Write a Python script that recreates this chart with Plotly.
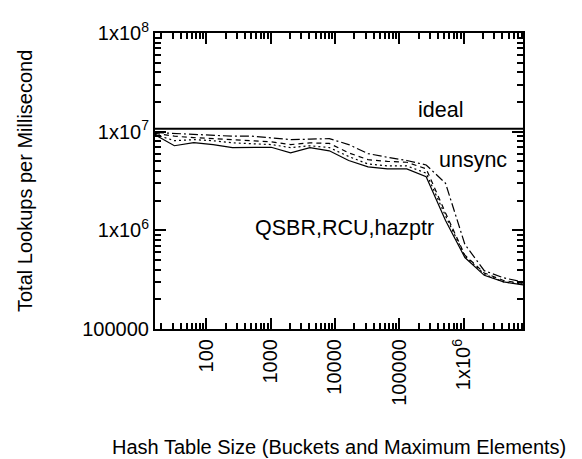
import plotly.graph_objects as go

sizes = [2 ** k for k in range(4, 24)]

qsbr = [9.3e6, 7.2e6, 7.75e6, 7.4e6, 6.9e6, 6.9e6, 6.95e6, 6.1e6, 6.9e6, 6.4e6,
        5.1e6, 4.4e6, 4.2e6, 4.2e6, 3.5e6, 1.26e6, 5.3e5, 3.5e5, 3.0e5, 2.8e5]
rcu = [9.4e6, 8.1e6, 8.3e6, 8.1e6, 7.7e6, 7.6e6, 7.4e6, 6.9e6, 7.2e6, 6.9e6,
       5.6e6, 4.7e6, 4.5e6, 4.5e6, 3.8e6, 1.4e6, 5.5e5, 3.6e5, 3.0e5, 2.85e5]
hazptr = [9.6e6, 9.0e6, 8.7e6, 8.5e6, 8.3e6, 8.1e6, 7.9e6, 7.4e6, 7.7e6, 7.6e6,
          6.1e6, 5.2e6, 5.0e6, 4.9e6, 4.2e6, 1.5e6, 5.6e5, 3.7e5, 3.1e5, 2.9e5]
unsync = [9.8e6, 9.6e6, 9.4e6, 9.2e6, 9.0e6, 9.0e6, 8.7e6, 8.3e6, 8.4e6, 8.5e6,
          7.4e6, 6.0e6, 5.5e6, 5.1e6, 4.6e6, 3.0e6, 7.2e5, 3.9e5, 3.3e5, 3.0e5]
ideal = [1.07e7] * len(sizes)

x_tickvals = [100, 1000, 10000, 100000, 1000000]
x_ticktext = ["100", "1000", "10000", "100000", "1x10<sup>6</sup>"]
y_tickvals = [1e5, 1e6, 1e7, 1e8]
y_ticktext = ["100000", "1x10<sup>6</sup>", "1x10<sup>7</sup>", "1x10<sup>8</sup>"]

FONT = "Liberation Sans, Arial, Helvetica, sans-serif"
FS = 20
AFS = 21.5
X_RANGE = [1.2041, 6.9237]
Y_RANGE = [5, 8]

minor_vals = [m * 10 ** e for e in range(1, 9) for m in range(2, 10)]

fig = go.Figure()
fig.add_trace(go.Scatter(x=sizes, y=ideal, mode="lines", name="ideal",
                         line=dict(color="black", width=2)))
fig.add_trace(go.Scatter(x=sizes, y=qsbr, mode="lines", name="QSBR",
                         line=dict(color="black", width=1.2)))
fig.add_trace(go.Scatter(x=sizes, y=rcu, mode="lines", name="RCU",
                         line=dict(color="black", width=1.2, dash="2px,3px")))
fig.add_trace(go.Scatter(x=sizes, y=hazptr, mode="lines", name="hazptr",
                         line=dict(color="black", width=1.2, dash="5px,4px")))
fig.add_trace(go.Scatter(x=sizes, y=unsync, mode="lines", name="unsync",
                         line=dict(color="black", width=1.2, dash="9px,3px,2px,3px")))

fig.update_xaxes(type="log", range=X_RANGE, tickvals=x_tickvals, ticktext=x_ticktext,
                 tickangle=-90, tickfont=dict(family=FONT, size=FS, color="black"),
                 ticks="inside", ticklen=11, tickwidth=1.5, tickcolor="black",
                 showline=True, linecolor="black", linewidth=2, mirror="ticks",
                 minor=dict(ticks="inside", ticklen=6, tickwidth=1.5, tickcolor="black",
                            tickvals=minor_vals))
fig.update_yaxes(type="log", range=Y_RANGE, tickvals=y_tickvals, ticktext=y_ticktext,
                 tickfont=dict(family=FONT, size=FS, color="black"),
                 ticks="inside", ticklen=11, tickwidth=1.5, tickcolor="black",
                 showline=True, linecolor="black", linewidth=2, mirror="ticks",
                 minor=dict(ticks="inside", ticklen=6, tickwidth=1.5, tickcolor="black",
                            tickvals=minor_vals))

annos = [
    dict(x=5.64, y=7.22, text="ideal"),
    dict(x=6.15, y=6.71, text="unsync"),
    dict(x=4.15, y=6.02, text="QSBR,RCU,hazptr"),
]
fig.update_layout(
    width=582, height=459,
    margin=dict(l=147, r=67, t=25, b=138),
    plot_bgcolor="white",
    showlegend=False,
    annotations=[dict(x=a["x"], y=a["y"], text=a["text"], xref="x", yref="y",
                      showarrow=False, font=dict(family=FONT, size=AFS, color="black"))
                 for a in annos] + [
        dict(x=0, y=0.5, xref="paper", yref="paper", xanchor="center", yanchor="middle",
             xshift=-130, showarrow=False,
             text="Total Lookups per Millisecond", textangle=-90,
             font=dict(family=FONT, size=FS, color="black")),
        dict(x=0.5, y=0, xref="paper", yref="paper", xanchor="center", yanchor="middle",
             yshift=-118, showarrow=False,
             text="Hash Table Size (Buckets and Maximum Elements)",
             font=dict(family=FONT, size=FS, color="black")),
    ],
)

fig.write_html("out.html")
